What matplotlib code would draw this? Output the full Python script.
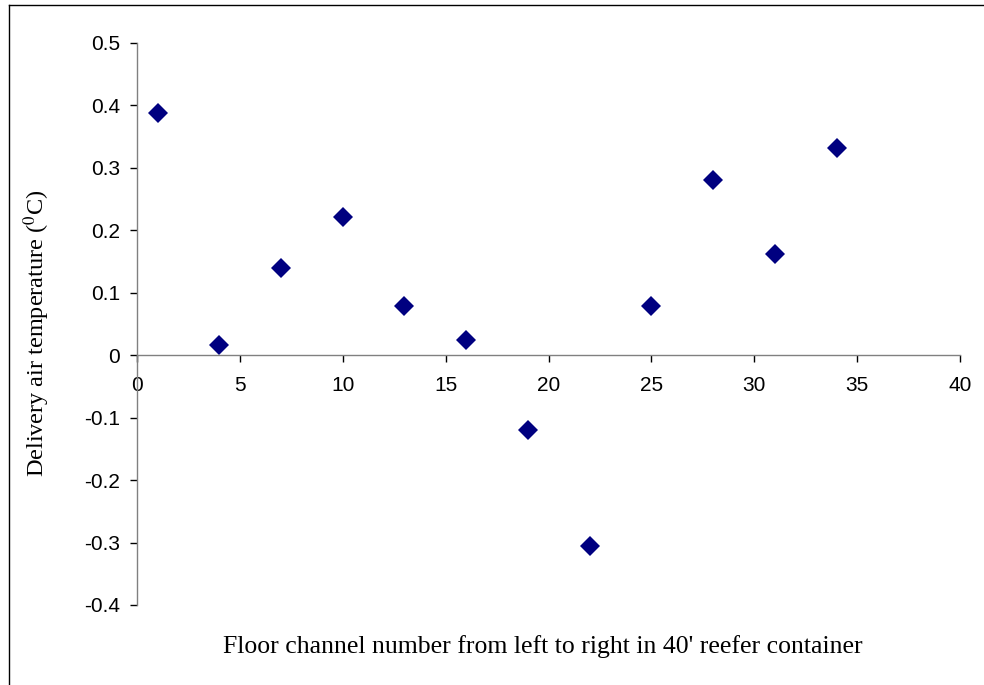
import matplotlib
matplotlib.use("Agg")
import matplotlib.pyplot as plt
from matplotlib.lines import Line2D

# floor channel numbers and delivery air temperature readings
channels = [1, 4, 7, 10, 13, 16, 19, 22, 25, 28, 31, 34]
temps = [0.388, 0.016, 0.139, 0.221, 0.079, 0.024, -0.120, -0.306, 0.079, 0.280, 0.162, 0.332]

x_ticks = [0, 5, 10, 15, 20, 25, 30, 35, 40]
y_ticks = [-0.4, -0.3, -0.2, -0.1, 0, 0.1, 0.2, 0.3, 0.4, 0.5]
y_labels = ["-0.4", "-0.3", "-0.2", "-0.1", "0", "0.1", "0.2", "0.3", "0.4", "0.5"]

plt.rcParams['mathtext.fontset'] = 'stix'

fig = plt.figure(figsize=(9.84, 6.85), dpi=100)
ax = fig.add_axes([137 / 984, 1 - 605 / 685, 823 / 984, 562 / 685])

ax.plot(channels, temps, linestyle='none', marker='D', markersize=10,
        color='#000080', markeredgewidth=0, clip_on=False)

ax.set_xlim(0, 40)
ax.set_ylim(-0.4, 0.5)

# excel style axes: x axis crosses at y = 0
ax.spines['top'].set_visible(False)
ax.spines['right'].set_visible(False)
ax.spines['bottom'].set_position(('data', 0))
for s in ('left', 'bottom'):
    ax.spines[s].set_color('#808080')
    ax.spines[s].set_linewidth(1)

ax.set_xticks(x_ticks)
ax.set_xticklabels([str(t) for t in x_ticks], family='Liberation Sans', fontsize=15)
ax.set_yticks(y_ticks)
ax.set_yticklabels(y_labels, family='Liberation Sans', fontsize=15)
ax.tick_params(axis='both', direction='out', length=5, width=1, color='black')
ax.tick_params(axis='x', pad=10)
ax.tick_params(axis='y', pad=7)

fig.text(543 / 984, 1 - 647 / 685,
         "Floor channel number from left to right in 40' reefer container",
         ha='center', va='center', family='Liberation Serif', fontsize=18.5)
fig.text(37 / 984, 1 - 333 / 685, r"Delivery air temperature ($^{0}$C)",
         ha='center', va='center', rotation=90, family='Liberation Serif', fontsize=17.5)

# outer chart border (only left and top visible in the crop)
fig.add_artist(Line2D([8.5 / 984, 8.5 / 984], [0, 1 - 4.5 / 685], transform=fig.transFigure,
                      color='black', linewidth=1))
fig.add_artist(Line2D([8.5 / 984, 1], [1 - 4.5 / 685, 1 - 4.5 / 685], transform=fig.transFigure,
                      color='black', linewidth=1))

fig.savefig("out.png", dpi=100)
